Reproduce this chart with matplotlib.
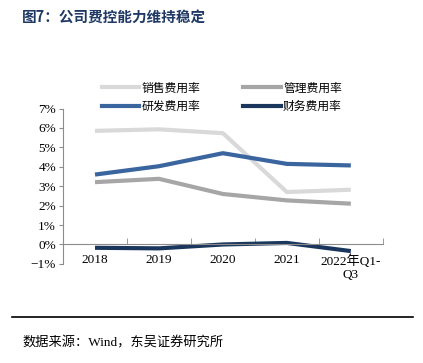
import matplotlib.pyplot as plt
from matplotlib.lines import Line2D
from matplotlib.ticker import FixedLocator, PercentFormatter

plt.rcParams['font.family'] = ['Liberation Serif', 'Noto Sans CJK SC']

# dados (%)
anos = ['2018', '2019', '2020', '2021', '2022年Q1-\nQ3']
vendas = [5.85, 5.93, 5.73, 2.70, 2.82]
gestao = [3.21, 3.38, 2.60, 2.27, 2.10]
pesquisa = [3.60, 4.03, 4.70, 4.15, 4.07]
financeiro = [-0.17, -0.20, 0.00, 0.08, -0.34]

nomes = ['销售费用率', '管理费用率', '研发费用率', '财务费用率']
cores = ['#D9D9D9', '#A6A6A6', '#3A659E', '#1B365D']
series = [vendas, gestao, pesquisa, financeiro]

fig = plt.figure(figsize=(4.23, 3.63), dpi=100)
ax = fig.add_axes([0.149, 0.273, 0.756, 0.428])

x = range(len(anos))
for valores, cor in zip(series, cores):
    ax.plot(x, valores, color=cor, linewidth=3, solid_capstyle='butt')

ax.set_xlim(-0.5, len(anos) - 0.5)
ax.set_ylim(-1, 7)
ax.yaxis.set_major_locator(FixedLocator(range(-1, 8)))
ax.yaxis.set_major_formatter(PercentFormatter(decimals=0))

cinza = '#8C8C8C'
for lado in ['top', 'right']:
    ax.spines[lado].set_visible(False)
ax.spines['bottom'].set_position(('data', 0))
ax.spines['bottom'].set_color(cinza)
ax.spines['left'].set_color(cinza)

ax.set_xticks(list(x))
ax.set_xticklabels(anos, fontsize=9.5, linespacing=1.1)
ax.set_xticks([i + 0.5 for i in x], minor=True)
ax.tick_params(axis='x', which='major', length=0, pad=7)
ax.tick_params(axis='x', which='minor', direction='in', length=4, color=cinza)
ax.tick_params(axis='y', direction='out', length=3, color=cinza, labelsize=9.5, pad=2)

# legenda em duas colunas, preenchida por coluna
ordem = [0, 2, 1, 3]
handles = [Line2D([], [], color=cores[i], linewidth=3) for i in ordem]
fig.legend(handles, [nomes[i] for i in ordem], loc='upper left',
           bbox_to_anchor=(0.215, 0.805), ncol=2, frameon=False,
           handlelength=3.2, handletextpad=0.2, columnspacing=3.6,
           labelspacing=0.45, prop={'family': ['Noto Sans CJK SC'], 'size': 8.5})

fig.text(0.052, 0.952, '图7：公司费控能力维持稳定', fontsize=10.5, fontweight='bold',
         color='#1F3864', family=['Noto Sans CJK SC'], va='center')
fig.add_artist(Line2D([0.028, 0.977], [0.127, 0.127], color='black', linewidth=1.2))
fig.text(0.052, 0.055, '数据来源：Wind，东吴证券研究所', fontsize=9.5, va='center')

fig.savefig('out.png', dpi=100)
